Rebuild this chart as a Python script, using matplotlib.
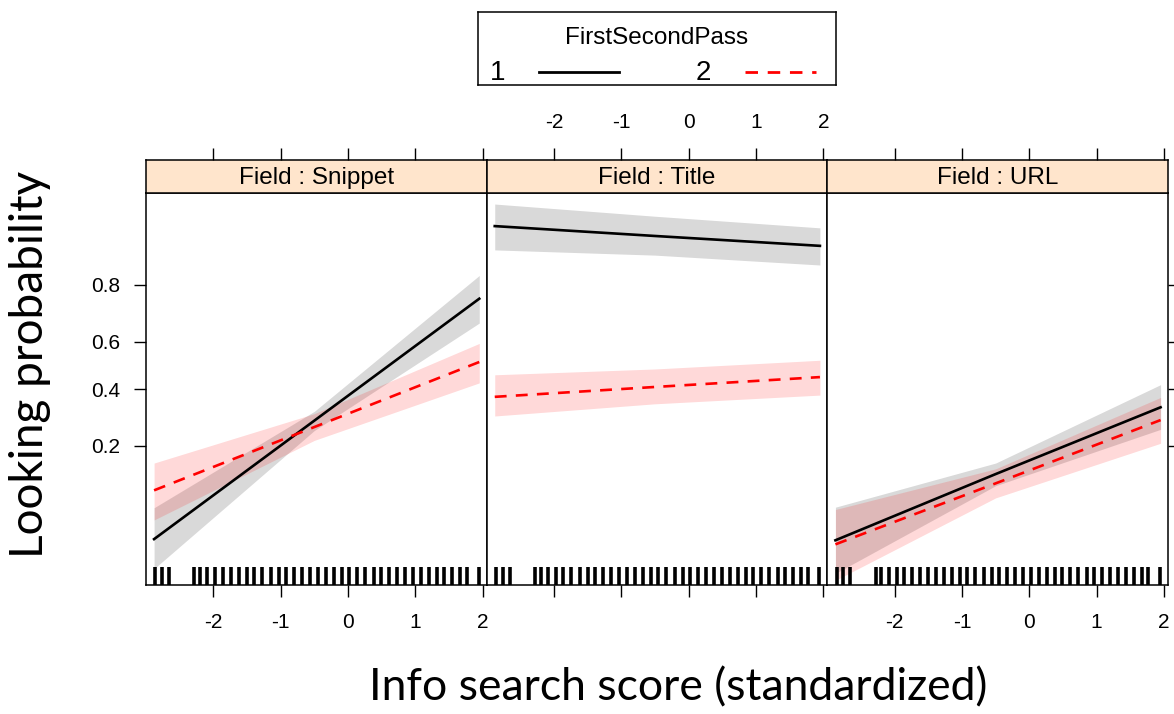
import numpy as np
import matplotlib.pyplot as plt
from matplotlib.lines import Line2D

# Panels (Field) and passes
fields = ["Snippet", "Title", "URL"]
passes = ["1", "2"]

x_pts = [-2.88, -0.5, 1.95]

# fitted values and CI on the logit scale
fit = {
    ("Snippet", "1"): [-2.99, -0.95, 1.15],
    ("Snippet", "2"): [-2.15, -1.06, 0.06],
    ("Title", "1"): [2.40, 2.23, 2.06],
    ("Title", "2"): [-0.54, -0.37, -0.20],
    ("URL", "1"): [-3.01, -1.87, -0.72],
    ("URL", "2"): [-3.08, -2.03, -0.94],
}
lower = {
    ("Snippet", "1"): [-3.50, -1.12, 0.73],
    ("Snippet", "2"): [-2.66, -1.29, -0.30],
    ("Title", "1"): [1.99, 1.90, 1.73],
    ("Title", "2"): [-0.87, -0.66, -0.51],
    ("URL", "1"): [-3.58, -2.07, -1.10],
    ("URL", "2"): [-3.70, -2.28, -1.34],
}
upper = {
    ("Snippet", "1"): [-2.45, -0.79, 1.55],
    ("Snippet", "2"): [-1.68, -0.83, 0.38],
    ("Title", "1"): [2.78, 2.57, 2.37],
    ("Title", "2"): [-0.16, -0.06, 0.09],
    ("URL", "1"): [-2.44, -1.68, -0.33],
    ("URL", "2"): [-2.48, -1.78, -0.55],
}

# rug of observed info search scores
rug_x = [-2.86, -2.76, -2.66,
         -2.28, -2.20, -2.09, -1.97, -1.86, -1.74, -1.62, -1.50, -1.39, -1.27,
         -1.15, -1.03, -0.92, -0.80, -0.68, -0.56, -0.45, -0.33, -0.21, -0.09,
         0.02, 0.14, 0.26, 0.38, 0.49, 0.61, 0.73, 0.85, 0.96, 1.08,
         1.20, 1.32, 1.43, 1.55, 1.67, 1.77, 1.94]

x_ticks = [-2, -1, 0, 1, 2]
y_ticks = [0.2, 0.4, 0.6, 0.8]

styles = {
    "1": dict(color="black", ls="-", band="black"),
    "2": dict(color="red", ls=(0, (4.5, 3.5)), band="red"),
}

W, H = 1174, 714
fig = plt.figure(figsize=(W / 100, H / 100), dpi=100)

narrow = ["Liberation Sans Narrow", "Liberation Sans", "DejaVu Sans"]
tick_font = dict(family=narrow, fontsize=15)
strip_font = dict(family=narrow, fontsize=17.5)

left_px, right_px = 146, 1168
top_px, bottom_px, strip_top_px = 193, 585, 160
pw = (right_px - left_px) / 3

logit = lambda p: np.log(p / (1 - p))

for i, f in enumerate(fields):
    x0 = left_px + i * pw
    ax = fig.add_axes([x0 / W, 1 - bottom_px / H, pw / W, (bottom_px - top_px) / H])
    for p in passes:
        st = styles[p]
        ax.fill_between(x_pts, lower[(f, p)], upper[(f, p)], color=st["band"],
                        alpha=0.15, linewidth=0)
    for p in passes:
        st = styles[p]
        ax.plot(x_pts, fit[(f, p)], color=st["color"], ls=st["ls"], lw=1.9)
    ax.vlines(rug_x, 0, 0.047, transform=ax.get_xaxis_transform(), color="black", lw=2.6)
    ax.set_xlim(-3.0, 2.06)
    ax.set_ylim(-3.78, 2.97)
    for s in ax.spines.values():
        s.set_linewidth(1.1)
    ax.tick_params(direction="out", length=8.5, width=1.0, colors="black")
    ax.set_xticks(x_ticks)
    if i == 1:
        ax.set_xticklabels([])
    else:
        ax.set_xticklabels([str(t) for t in x_ticks], **tick_font)
    ax.tick_params(axis="x", pad=12)
    ax.tick_params(axis="y", pad=10)
    ax.set_yticks(logit(np.array(y_ticks)))
    if i == 0:
        ax.set_yticklabels([str(t) for t in y_ticks], **tick_font)
    elif i == 2:
        ax.yaxis.tick_right()
        ax.set_yticklabels([])
    else:
        ax.set_yticks([])

    # strip on top
    sa = fig.add_axes([x0 / W, 1 - top_px / H, pw / W, (top_px - strip_top_px) / H])
    sa.set_facecolor("#ffe5cc")
    sa.set_xlim(-3.0, 2.06)
    sa.set_yticks([])
    for s in sa.spines.values():
        s.set_linewidth(1.1)
    sa.xaxis.tick_top()
    sa.set_xticks(x_ticks)
    sa.tick_params(direction="out", length=8.5, width=1.0, pad=12)
    if i == 1:
        sa.set_xticklabels([str(t) for t in x_ticks], **tick_font)
    else:
        sa.set_xticklabels([])
    sa.text(0.5, 0.45, "Field : " + f, transform=sa.transAxes, ha="center", va="center",
            **strip_font)

# legend box
la = fig.add_axes([478 / W, 1 - 85 / H, (836 - 478) / W, (85 - 12) / H])
la.set_xticks([])
la.set_yticks([])
la.set_xlim(0, 1)
la.set_ylim(0, 1)
for s in la.spines.values():
    s.set_linewidth(1.1)
la.text(0.5, 0.64, "FirstSecondPass", ha="center", va="center", **strip_font)
la.text(0.055, 0.17, "1", ha="center", va="center", family=narrow, fontsize=20)
la.text(0.63, 0.17, "2", ha="center", va="center", family=narrow, fontsize=20)
la.add_line(Line2D([0.17, 0.395], [0.18, 0.18], color="black", lw=2.0))
la.add_line(Line2D([0.745, 0.945], [0.18, 0.18], color="red", lw=2.0, ls=(0, (4.5, 3.5))))

fig.text(30 / W, 1 - 364 / H, "Looking probability", rotation=90, ha="center", va="center",
         family="Lato", fontsize=33)
fig.text(678 / W, 1 - 688 / H, "Info search score (standardized)", ha="center", va="center",
         family="Lato", fontsize=32)

fig.savefig("out.png", dpi=100)
